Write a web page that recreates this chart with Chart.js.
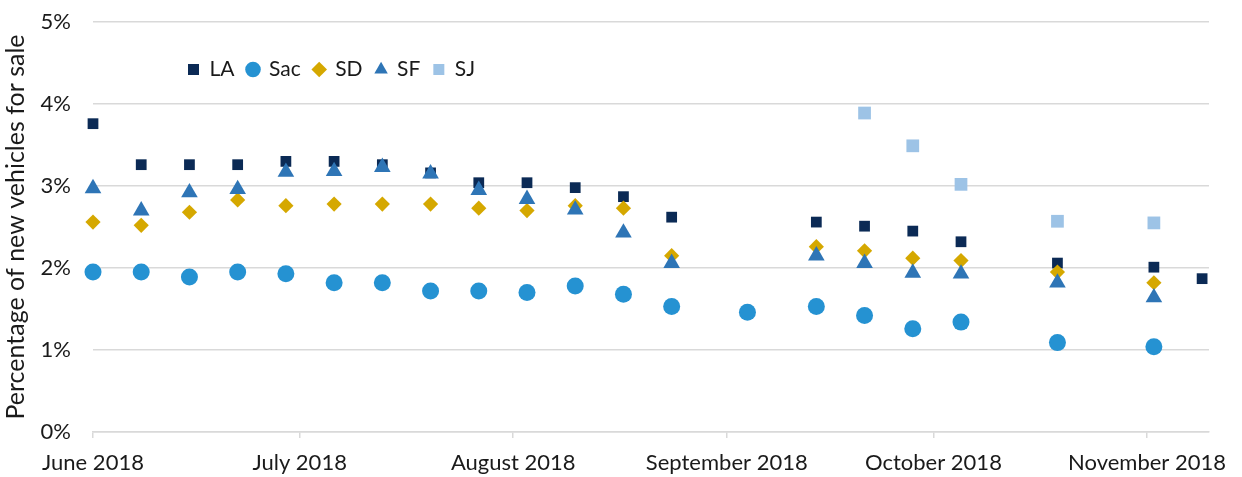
<!DOCTYPE html>
<html>
<head>
<meta charset="utf-8">
<script src="https://cdn.jsdelivr.net/npm/chart.js@4.4.1/dist/chart.umd.min.js"></script>
<style>
  html, body { margin: 0; padding: 0; background: #ffffff; }
  #wrap { width: 1242px; height: 477px; position: relative; }
</style>
</head>
<body>
<div id="wrap"><canvas id="chart"></canvas></div>
<script>
// weekly snapshot dates
const weeks = [
  '2018-06-01', '2018-06-08', '2018-06-15', '2018-06-22', '2018-06-29',
  '2018-07-06', '2018-07-13', '2018-07-20', '2018-07-27',
  '2018-08-03', '2018-08-10', '2018-08-17', '2018-08-24',
  '2018-09-04', '2018-09-14', '2018-09-21', '2018-09-28',
  '2018-10-05', '2018-10-19', '2018-11-02', '2018-11-09'
];

// % of new vehicles for sale, per metro
const la  = [3.76, 3.26, 3.26, 3.26, 3.30, 3.30, 3.26, 3.16, 3.04, 3.04, 2.98, 2.87, 2.62, null, 2.56, 2.51, 2.45, 2.32, 2.06, 2.01, 1.87];
const sac = [1.95, 1.95, 1.89, 1.95, 1.93, 1.82, 1.82, 1.72, 1.72, 1.70, 1.78, 1.68, 1.53, 1.46, 1.53, 1.42, 1.26, 1.34, 1.09, 1.04, null];
const sd  = [2.56, 2.52, 2.68, 2.83, 2.76, 2.78, 2.78, 2.78, 2.73, 2.70, 2.76, 2.73, 2.15, null, 2.26, 2.21, 2.12, 2.09, 1.95, 1.82, null];
const sf  = [2.97, 2.70, 2.92, 2.96, 3.17, 3.18, 3.23, 3.15, 2.95, 2.84, 2.71, 2.43, 2.06, null, 2.15, 2.06, 1.94, 1.93, 1.82, 1.64, null];
const sj  = [null, null, null, null, null, null, null, null, null, null, null, null, null, null, null, 3.89, 3.49, 3.02, 2.57, 2.55, null];

// x axis
const axisStart = '2018-06-01';
const axisEnd = '2018-11-10';
const monthTicks = ['2018-06-01', '2018-07-01', '2018-08-01', '2018-09-01', '2018-10-01', '2018-11-01'];
const monthLabels = ['June 2018', 'July 2018', 'August 2018', 'September 2018', 'October 2018', 'November 2018'];

// y axis
const yTicks = [0, 1, 2, 3, 4, 5];

const FONT = 'Lato, "Liberation Sans", sans-serif';
const TEXT = '#1a1a1a';
const GRID = '#d9d9d9';

const dayOf = s => (Date.parse(s) - Date.parse(axisStart)) / 86400000;
const toPoints = vals => weeks.map((w, i) => ({ x: dayOf(w), y: vals[i] })).filter(p => p.y !== null);

function series(label, vals, color, style, radius, order) {
    return {
        label: label,
        data: toPoints(vals),
        backgroundColor: color,
        borderColor: color,
        borderWidth: 0,
        pointStyle: style,
        pointRadius: radius,
        pointHoverRadius: radius,
        clip: false,
        order: order
    };
}

const datasets = [
    series('LA', la, '#0b2a55', 'rect', 7.6, 5),
    series('Sac', sac, '#2592d2', 'circle', 8.5, 4),
    series('SD', sd, '#d5a800', 'rectRot', 7.6, 3),
    series('SF', sf, '#2e75b6', 'triangle', 9.6, 2),
    series('SJ', sj, '#9dc3e6', 'rect', 9, 1)
];

// legend sits inside the plot area, top left, laid out in one row
const legendInPlot = {
    id: 'legendInPlot',
    beforeLayout(chart) {
        if (chart.legend) chart.legend.isHorizontal = () => true;
    },
    beforeDraw(chart) {
        const lg = chart.legend;
        lg.left = chart.chartArea.left + 82;
        lg.top = chart.chartArea.top + 24;
    }
};

new Chart(document.getElementById('chart'), {
    type: 'scatter',
    data: { datasets },
    plugins: [legendInPlot],
    options: {
        responsive: true,
        maintainAspectRatio: false,
        animation: false,
        layout: { padding: { left: 0, right: 33, top: 22, bottom: 0 } },
        plugins: {
            tooltip: { enabled: false },
            legend: {
                position: 'chartArea',
                align: 'start',
                labels: {
                    usePointStyle: true,
                    boxWidth: 11,
                    boxHeight: 11,
                    padding: 13,
                    color: TEXT,
                    font: { family: FONT, size: 21 },
                    sort: (a, b) => a.datasetIndex - b.datasetIndex
                }
            }
        },
        scales: {
            x: {
                type: 'linear',
                min: dayOf(axisStart),
                max: dayOf(axisEnd),
                afterBuildTicks: scale => {
                    scale.ticks = monthTicks.map(d => ({ value: dayOf(d) }));
                },
                afterFit: scale => { scale.height = 45; },
                ticks: {
                    color: TEXT,
                    font: { family: FONT, size: 22 },
                    maxRotation: 0,
                    autoSkip: false,
                    padding: 12,
                    callback: (value) => {
                        const i = monthTicks.findIndex(d => dayOf(d) === value);
                        return i >= 0 ? monthLabels[i] : '';
                    }
                },
                grid: {
                    drawOnChartArea: false,
                    drawTicks: true,
                    tickLength: 6,
                    color: GRID,
                    lineWidth: 1.5
                },
                border: { display: true, color: GRID, width: 1.5 }
            },
            y: {
                min: 0,
                max: 5,
                afterBuildTicks: scale => {
                    scale.ticks = yTicks.map(v => ({ value: v }));
                },
                afterFit: scale => {
                    scale.width = 93;
                    scale.paddingTop = 0;
                    scale.paddingBottom = 0;
                },
                ticks: {
                    color: TEXT,
                    font: { family: FONT, size: 22 },
                    padding: 22,
                    callback: v => v + '%'
                },
                grid: { color: GRID, lineWidth: 1.5, drawTicks: false },
                border: { display: false },
                title: {
                    display: true,
                    text: 'Percentage of new vehicles for sale',
                    color: TEXT,
                    font: { family: FONT, size: 25 },
                    padding: { top: 1, bottom: 4 }
                }
            }
        }
    }
});
</script>
</body>
</html>
